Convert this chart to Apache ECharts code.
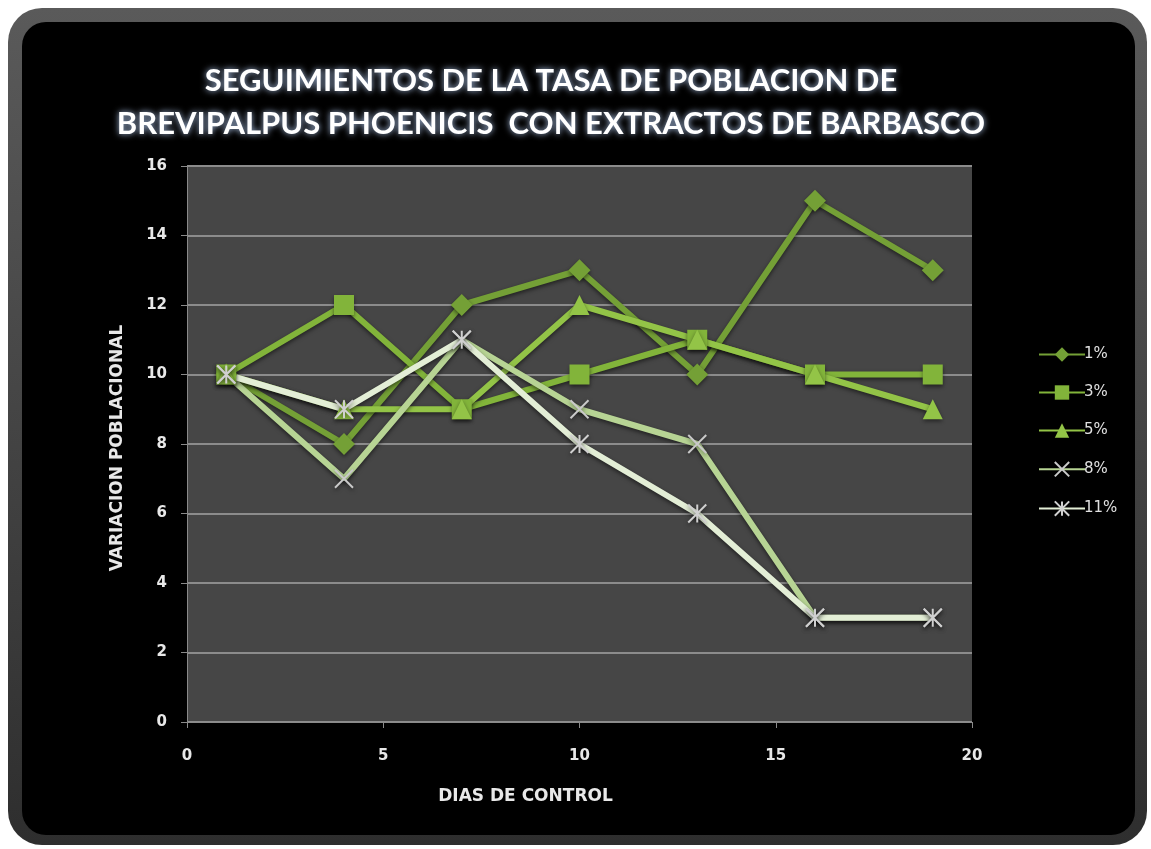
<!DOCTYPE html>
<html>
<head>
<meta charset="utf-8">
<script src="https://cdn.jsdelivr.net/npm/echarts@6/dist/echarts.min.js"></script>
<style>
html,body{margin:0;padding:0;background:#fff;}
#c{width:1151px;height:849px;}
</style>
</head>
<body>
<div id="c"></div>
<script>
var days = [1, 4, 7, 10, 13, 16, 19];
var s1 = [10, 8, 12, 13, 10, 15, 13];
var s3 = [10, 12, 9, 10, 11, 10, 10];
var s5 = [10, 9, 9, 12, 11, 10, 9];
var s8 = [10, 7, 11, 9, 8, 3, 3];
var s11 = [10, 9, 11, 8, 6, 3, 3];
var seriesNames = ['1%', '3%', '5%', '8%', '11%'];
var titleLines = ['SEGUIMIENTOS DE LA TASA DE POBLACION DE', 'BREVIPALPUS PHOENICIS  CON EXTRACTOS DE BARBASCO'];

function pairs(vals){ return days.map(function(d,i){ return [d, vals[i]]; }); }

var X_PATH = 'path://M0,0L20,20M20,0L0,20';
var AST_PATH = 'path://M0,0L20,20M20,0L0,20M10,0L10,20';

function mk(name, vals, color, symbol, size, extra){
  var s = {
    name: name, type: 'line', data: pairs(vals),
    symbol: symbol, symbolSize: size,
    lineStyle: {width: 6, color: color, shadowBlur: 4, shadowColor: 'rgba(0,0,0,0.55)', shadowOffsetY: 2},
    itemStyle: {color: color, shadowBlur: 4, shadowColor: 'rgba(0,0,0,0.5)', shadowOffsetY: 2},
    emphasis: {disabled: true}
  };
  if (extra) { s.itemStyle.color = 'rgba(0,0,0,0)'; s.itemStyle.borderColor = extra; s.itemStyle.borderWidth = 2; }
  return s;
}

var chart = echarts.init(document.getElementById('c'), null, {renderer: 'canvas'});
var lbl = {color: '#e8e8e8', fontSize: 15, fontWeight: 'bold', fontFamily: '"DejaVu Sans", Verdana, sans-serif'};
var nameLbl = {color: '#e8e8e8', fontSize: 17, fontWeight: 'bold', fontFamily: '"DejaVu Sans", Verdana, sans-serif'};
chart.setOption({
  backgroundColor: '#ffffff',
  animation: false,
  graphic: [
    {type: 'rect', z: -10, shape: {x: 8, y: 8, width: 1139, height: 837, r: 34},
     style: {fill: new echarts.graphic.LinearGradient(0,0,0,1,[{offset:0,color:'#5a5a5a'},{offset:1,color:'#2e2e2e'}])}},
    {type: 'rect', z: -9, shape: {x: 22, y: 22, width: 1113, height: 813, r: 24}, style: {fill: '#000'}},
    {type: 'text', z: 10, x: 551, y: 59,
     style: {text: titleLines.join('\n'), fill: '#ffffff', font: 'bold 31px Lato, sans-serif', lineHeight: 43, align: 'center',
             textShadowColor: 'rgba(190,215,255,0.9)', textShadowBlur: 6}}
  ],
  grid: {left: 187, right: 179, top: 166, bottom: 127, show: true, backgroundColor: '#464646', borderWidth: 0},
  legend: {
    orient: 'vertical', left: 1033, top: 342, itemWidth: 46, itemHeight: 18, itemGap: 23,
    textStyle: {color: '#e0e0e0', fontSize: 15, fontFamily: '"DejaVu Sans", sans-serif', padding: [0,0,0,-6]},
    data: seriesNames
  },
  xAxis: {
    type: 'value', min: 0, max: 20, interval: 5,
    name: 'DIAS DE CONTROL', nameLocation: 'middle', nameGap: 66,
    nameTextStyle: Object.assign({padding: [0, 108, 0, 0]}, nameLbl),
    axisLine: {show: true, lineStyle: {color: '#8a8a8a', width: 1}},
    axisTick: {show: true, length: 6, lineStyle: {color: '#8a8a8a'}},
    axisLabel: Object.assign({margin: 27}, lbl),
    splitLine: {show: false}
  },
  yAxis: {
    type: 'value', min: 0, max: 16, interval: 2,
    name: 'VARIACION POBLACIONAL', nameLocation: 'middle', nameGap: 61,
    nameTextStyle: Object.assign({padding: [0, 8, 0, 0]}, nameLbl),
    axisLine: {show: true, lineStyle: {color: '#8a8a8a', width: 1}},
    axisTick: {show: true, length: 6, lineStyle: {color: '#8a8a8a'}},
    axisLabel: Object.assign({margin: 20}, lbl),
    splitLine: {show: true, lineStyle: {color: '#8c8c8c', width: 2}}
  },
  series: [
    mk('1%', s1, '#74a036', 'diamond', 22),
    mk('3%', s3, '#82b43a', 'rect', 20),
    mk('5%', s5, '#93c447', 'triangle', 20),
    mk('8%', s8, '#b7d494', X_PATH, 18, '#c9c9c9'),
    mk('11%', s11, '#e3eed6', AST_PATH, 18, '#d0d0d0')
  ]
});
</script>
</body>
</html>
